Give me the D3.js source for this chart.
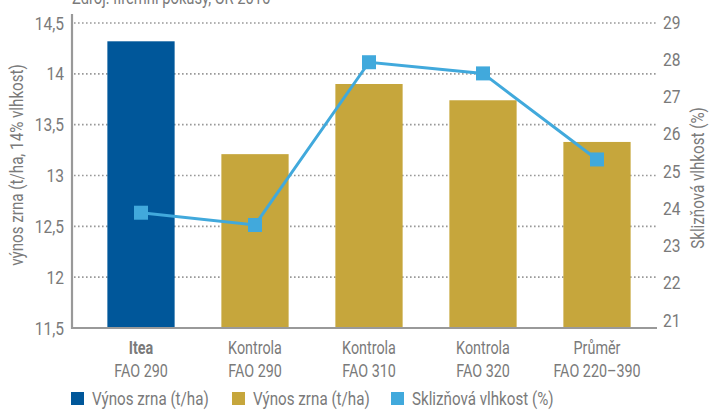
<!DOCTYPE html>
<html>
<head>
<meta charset="utf-8">
<script src="https://cdn.jsdelivr.net/npm/d3@7"></script>
<style>
  body { margin: 0; background: #fff; }
  svg { display: block; font-family: Roboto, "Liberation Sans", sans-serif; }
  svg text { fill: #7a7a7a; }
</style>
</head>
<body>
<div id="chart"></div>
<script>
// Hybridy kukuřice — výnos zrna a sklizňová vlhkost
const categories  = ['Itea', 'Kontrola', 'Kontrola', 'Kontrola', 'Průměr'];
const subLabels   = ['FAO 290', 'FAO 290', 'FAO 310', 'FAO 320', 'FAO 220–390'];
const yieldValues = [14.32, 13.21, 13.9, 13.74, 13.33];     // t/ha
const moisture    = [23.88, 23.55, 27.92, 27.62, 25.31];    // %
const leftTicks   = [11.5, 12, 12.5, 13, 13.5, 14, 14.5];
const rightTicks  = [21, 22, 23, 24, 25, 26, 27, 28, 29];

const W = 709, H = 410;
const colBlue  = '#00579a';
const colGold  = '#c6a63c';
const colLine  = '#41a9dc';
const colGrey  = '#999999';
const SX = 0.82;   // horizontal squeeze, stands in for the condensed face
const fmt = v => String(v).replace('.', ',');

const svg = d3.select('#chart').append('svg')
  .attr('width', W).attr('height', H);

// condensed text: drawn at origin, placed and squeezed by transform
const ctext = (parent, x, y, str, size, rot = 0) => parent.append('text')
  .attr('transform', `translate(${x},${y})${rot ? ` rotate(${rot})` : ''} scale(${SX},1)`)
  .style('font-size', size + 'px')
  .text(str);

const x = d3.scaleBand()
  .domain(d3.range(categories.length))
  .range([84, 654])
  .paddingInner(0.41)
  .paddingOuter(0.205);

const y  = d3.scaleLinear().domain([11.5, 14.5]).range([328, 23]);
const y2 = d3.scaleLinear().domain([21, 29]).range([320, 22]);

const axisX0 = 72, axisX1 = 657;

// source line, mostly cut off at the top as in the original
ctext(svg, axisX0, 4, 'Zdroj: firemní pokusy, ČR 2016', 18);

// dotted gridlines (behind bars)
svg.append('g').selectAll('line')
  .data(leftTicks.slice(1))
  .join('line')
  .attr('x1', axisX0 + 2).attr('x2', axisX1)
  .attr('y1', d => y(d)).attr('y2', d => y(d))
  .attr('stroke', colGrey)
  .attr('stroke-width', 1.6)
  .attr('stroke-dasharray', '1.6 2.4');

// bars
svg.append('g').selectAll('rect')
  .data(yieldValues)
  .join('rect')
  .attr('x', (d, i) => x(i))
  .attr('width', x.bandwidth())
  .attr('y', d => y(d))
  .attr('height', d => y(11.5) - y(d))
  .attr('fill', (d, i) => i === 0 ? colBlue : colGold);

// axis lines
svg.append('line')
  .attr('x1', axisX0).attr('x2', axisX0)
  .attr('y1', 14).attr('y2', y(11.5) + 1)
  .attr('stroke', colGrey).attr('stroke-width', 2.2);
svg.append('line')
  .attr('x1', axisX0 - 1).attr('x2', axisX1)
  .attr('y1', y(11.5)).attr('y2', y(11.5))
  .attr('stroke', colGrey).attr('stroke-width', 2.2);

// left tick labels
const gl = svg.append('g').attr('text-anchor', 'end');
leftTicks.forEach(t => ctext(gl, 64, y(t) + 6.5, fmt(t), 19));

// right tick labels
const gr = svg.append('g');
rightTicks.forEach(t => ctext(gr, 663, y2(t) + 6.5, t, 19));

// axis titles
const gt = svg.append('g').attr('text-anchor', 'middle');
ctext(gt, 23, 165, 'výnos zrna (t/ha, 14% vlhkost)', 18.5, -90);
ctext(gt, 704, 178, 'Sklizňová vlhkost (%)', 18.5, -90);

// category labels
const cx = i => x(i) + x.bandwidth() / 2;
const gc = svg.append('g').attr('text-anchor', 'middle');
categories.forEach((c, i) => {
  ctext(gc, cx(i), 354, c, 17.5).style('font-weight', i === 0 ? 'bold' : null);
  ctext(gc, cx(i), 377, subLabels[i], 17.5);
});

// moisture line
svg.append('path')
  .datum(moisture)
  .attr('fill', 'none')
  .attr('stroke', colLine)
  .attr('stroke-width', 3)
  .attr('d', d3.line().x((d, i) => cx(i)).y(d => y2(d)));

const ms = 14;
svg.append('g').selectAll('rect')
  .data(moisture)
  .join('rect')
  .attr('x', (d, i) => cx(i) - ms / 2)
  .attr('y', d => y2(d) - ms / 2)
  .attr('width', ms).attr('height', ms)
  .attr('fill', colLine);

// legend
const legend = [
  { label: 'Výnos zrna (t/ha)', color: colBlue, x: 71 },
  { label: 'Výnos zrna (t/ha)', color: colGold, x: 232 },
  { label: 'Sklizňová vlhkost (%)', color: colLine, x: 391 },
];
legend.forEach(l => {
  const g = svg.append('g').attr('transform', `translate(${l.x},392)`);
  g.append('rect').attr('width', 13).attr('height', 13).attr('fill', l.color);
  ctext(g, 21, 13, l.label, 18.5);
});
</script>
</body>
</html>
